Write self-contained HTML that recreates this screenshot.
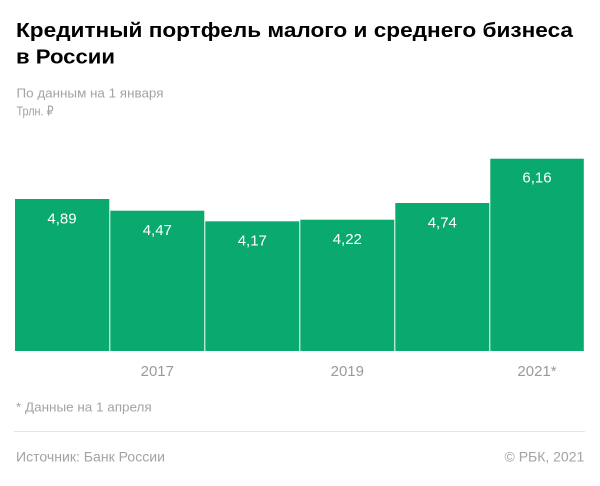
<!DOCTYPE html>
<html>
<head>
<meta charset="utf-8">
<style>
  html, body { margin: 0; padding: 0; background: #ffffff; }
  svg { display: block; }
  text { font-family: "Liberation Sans", "DejaVu Sans", sans-serif; }
</style>
</head>
<body>
<svg width="600" height="486" viewBox="0 0 600 486" xmlns="http://www.w3.org/2000/svg">
  <rect x="0" y="0" width="600" height="486" fill="#ffffff"/>

  <!-- Title -->
  <text x="16" y="37" font-size="20" font-weight="bold" fill="#000" textLength="557" lengthAdjust="spacingAndGlyphs">Кредитный портфель малого и среднего бизнеса</text>
  <text x="16" y="63.5" font-size="20" font-weight="bold" fill="#000" textLength="99" lengthAdjust="spacingAndGlyphs">в России</text>

  <!-- Subtitles -->
  <text x="16.5" y="97.3" font-size="13" fill="#a3a3a3" textLength="147" lengthAdjust="spacingAndGlyphs">По данным на 1 января</text>
  <text x="16.5" y="115.5" font-size="13" fill="#a3a3a3" textLength="37" lengthAdjust="spacingAndGlyphs">Трлн. ₽</text>

  <!-- Bars -->
  <g fill="#0aa96e">
    <rect x="15" y="199" width="94.3" height="152"/>
    <rect x="110.3" y="210.7" width="94" height="140.3"/>
    <rect x="205.3" y="221.3" width="94" height="129.7"/>
    <rect x="300.3" y="219.7" width="94" height="131.3"/>
    <rect x="395.3" y="203" width="94" height="148"/>
    <rect x="490.3" y="158.7" width="93.5" height="192.3"/>
  </g>

  <!-- Value labels -->
  <g font-size="15" fill="#ffffff" text-anchor="middle">
    <text x="62" y="223.3">4,89</text>
    <text x="157.3" y="235">4,47</text>
    <text x="252.3" y="245.5">4,17</text>
    <text x="347.3" y="244">4,22</text>
    <text x="442.3" y="227.3">4,74</text>
    <text x="537" y="182.5">6,16</text>
  </g>

  <!-- Year labels -->
  <g font-size="15" fill="#9a9a9a" text-anchor="middle">
    <text x="157.3" y="376">2017</text>
    <text x="347.3" y="376">2019</text>
    <text x="537" y="376">2021*</text>
  </g>

  <!-- Footnote -->
  <text x="16" y="411.7" font-size="13" fill="#a3a3a3" textLength="135.7" lengthAdjust="spacingAndGlyphs">* Данные на 1 апреля</text>

  <!-- Separator -->
  <line x1="14" y1="431.5" x2="585" y2="431.5" stroke="#e6e6e6" stroke-width="1"/>

  <!-- Source -->
  <text x="16" y="461.7" font-size="14" fill="#a3a3a3" textLength="149" lengthAdjust="spacingAndGlyphs">Источник: Банк России</text>
  <text x="584.3" y="461.7" font-size="14" fill="#a3a3a3" text-anchor="end">© РБК, 2021</text>
</svg>
</body>
</html>
